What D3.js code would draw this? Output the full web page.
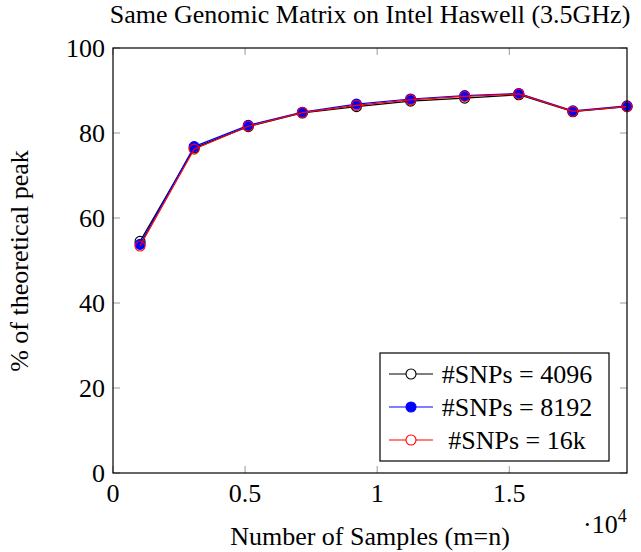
<!DOCTYPE html>
<html><head><meta charset="utf-8">
<script src="https://cdn.jsdelivr.net/npm/d3@7"></script>
<style>body{margin:0;background:#fff}svg{display:block}</style>
</head><body>
<script>
const samples = [1024, 3072, 5120, 7168, 9216, 11264, 13312, 15360, 17408, 19456];
const snp4096 = [54.5, 76.5, 81.5, 84.7, 86.2, 87.5, 88.2, 89.0, 85.0, 86.2];
const snp8192 = [53.8, 76.8, 81.8, 84.9, 86.8, 88.0, 88.8, 89.3, 85.2, 86.4];
const snp16k  = [53.4, 76.2, 81.6, 84.8, 86.5, 87.8, 88.6, 89.2, 85.1, 86.2];
const seriesNames = ["#SNPs = 4096", "#SNPs = 8192", "#SNPs = 16k"];
const xTicks = [0, 5000, 10000, 15000];
const xTickLabels = ["0", "0.5", "1", "1.5"];
const yTicks = [0, 20, 40, 60, 80, 100];

const W = 641, H = 552;
const m = {left: 113, right: 627, top: 48, bottom: 473};
const FS = 26;
const svg = d3.select("body").append("svg").attr("width", W).attr("height", H);
function txt(sel, x0, y0, size, anchor, s) {
  return sel.append("text").attr("x", x0).attr("y", y0)
    .attr("font-family", "Times New Roman").attr("font-size", size)
    .attr("text-anchor", anchor).attr("fill", "#000").text(s);
}

const x = d3.scaleLinear().domain([0, 19456]).range([m.left, m.right]);
const y = d3.scaleLinear().domain([0, 100]).range([m.bottom, m.top]);

const tickLen = 7, tickColor = "#999";
const g = svg.append("g");
xTicks.forEach(v => {
  g.append("line").attr("x1", x(v)).attr("x2", x(v)).attr("y1", m.bottom).attr("y2", m.bottom - tickLen).attr("stroke", tickColor);
  g.append("line").attr("x1", x(v)).attr("x2", x(v)).attr("y1", m.top).attr("y2", m.top + tickLen).attr("stroke", tickColor);
});
yTicks.forEach(v => {
  g.append("line").attr("x1", m.left).attr("x2", m.left + tickLen).attr("y1", y(v)).attr("y2", y(v)).attr("stroke", tickColor);
  g.append("line").attr("x1", m.right).attr("x2", m.right - tickLen).attr("y1", y(v)).attr("y2", y(v)).attr("stroke", tickColor);
});

xTicks.forEach((v, i) => txt(svg, x(v), 502, FS, "middle", xTickLabels[i]));
yTicks.forEach(v => txt(svg, 105, y(v) + 9, FS, "end", String(v)));

const series = [
  {vals: snp4096, color: "#000", fill: "none"},
  {vals: snp8192, color: "#0000ff", fill: "#0000ff"},
  {vals: snp16k, color: "#ff0000", fill: "none"}
];
const line = d3.line().x(d => x(d[0])).y(d => y(d[1]));
series.forEach(s => {
  const pts = samples.map((v, i) => [v, s.vals[i]]);
  svg.append("path").attr("d", line(pts)).attr("fill", "none").attr("stroke", s.color).attr("stroke-width", 1.2);
  svg.selectAll(null).data(pts).enter().append("circle")
    .attr("cx", d => x(d[0])).attr("cy", d => y(d[1])).attr("r", 5)
    .attr("fill", s.fill).attr("stroke", s.color).attr("stroke-width", 1.1);
});

svg.append("rect").attr("x", m.left).attr("y", m.top).attr("width", m.right - m.left).attr("height", m.bottom - m.top)
  .attr("fill", "none").attr("stroke", "#000").attr("stroke-width", 1.2);

const lg = svg.append("g");
lg.append("rect").attr("x", 380).attr("y", 353).attr("width", 229).attr("height", 108).attr("fill", "#fff").attr("stroke", "#000").attr("stroke-width", 1.2);
const rowsY = [374, 407, 440];
series.forEach((s, i) => {
  lg.append("line").attr("x1", 389).attr("x2", 433).attr("y1", rowsY[i]).attr("y2", rowsY[i]).attr("stroke", s.color).attr("stroke-width", 1.2);
  lg.append("circle").attr("cx", 411).attr("cy", rowsY[i]).attr("r", 5).attr("fill", s.fill === "none" ? "#fff" : s.fill).attr("stroke", s.color).attr("stroke-width", 1.1);
  txt(lg, 517, rowsY[i] + 9, FS, "middle", seriesNames[i]);
});

txt(svg, 370, 23, FS, "middle", "Same Genomic Matrix on Intel Haswell (3.5GHz)");
txt(svg, 370, 545, FS, "middle", "Number of Samples (m=n)");
const mult = txt(svg, 583, 533, FS, "start", "\u00b710");
mult.append("tspan").attr("dy", -11).attr("font-size", 18).text("4");
txt(svg, 0, 0, FS, "middle", "% of theoretical peak").attr("transform", "translate(28,261) rotate(-90)");
</script>
</body></html>
